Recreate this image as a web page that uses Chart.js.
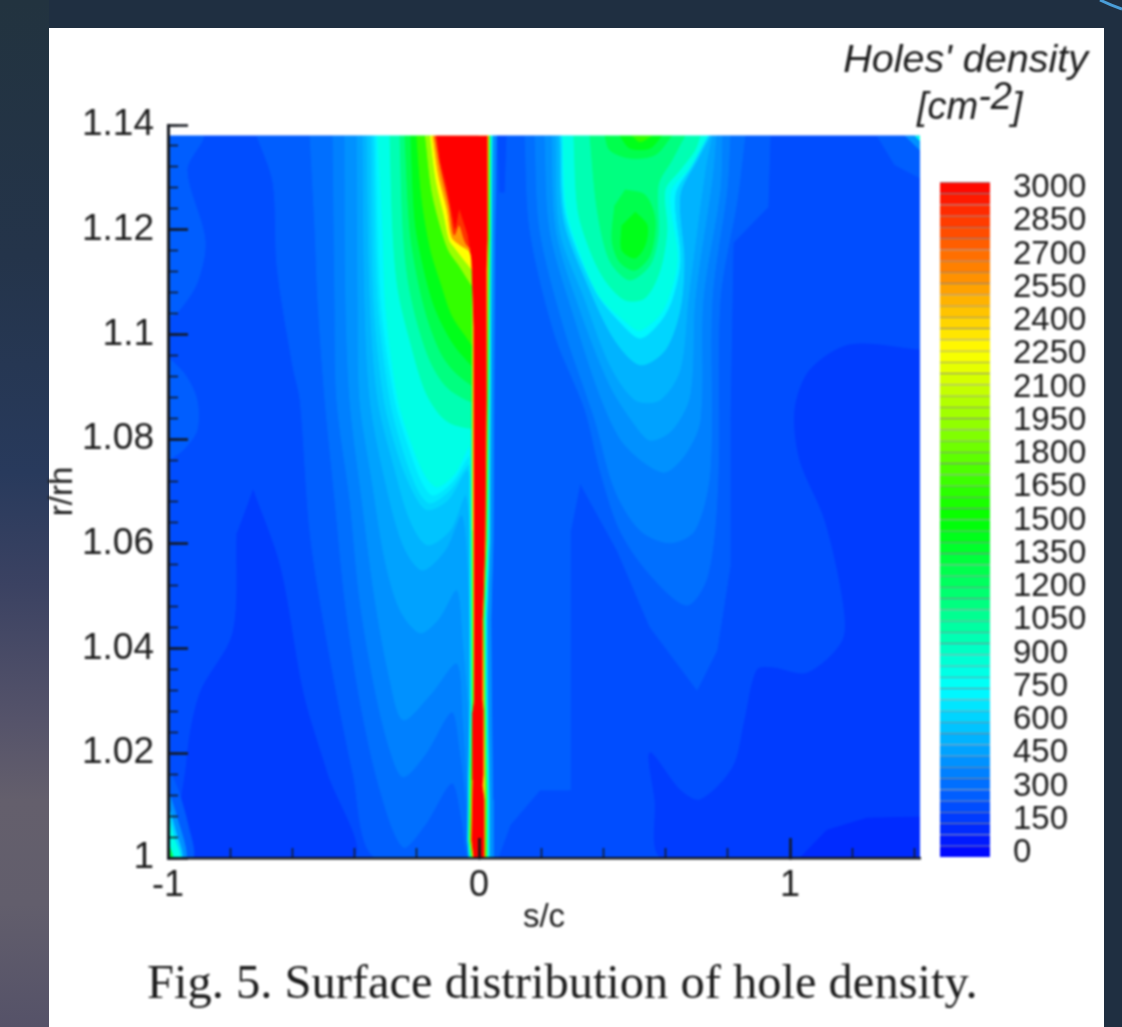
<!DOCTYPE html>
<html><head><meta charset="utf-8">
<style>
html,body{margin:0;padding:0;width:1122px;height:1027px;overflow:hidden;background:#1f2f41}
#bg{position:absolute;inset:0;background:linear-gradient(to bottom,#22333f 0%,#24344a 25%,#283a5c 46%,#3b4262 57%,#55536a 70%,#645f6c 78%,#625e6c 88%,#555268 100%)}
#bgr{position:absolute;left:49px;top:0;right:0;height:28px;background:#1f2f41}
#bgs{position:absolute;left:1104px;top:0;right:0;bottom:0;background:#1f2f41}
#page{position:absolute;left:49px;top:28px;width:1055px;height:999px;background:#fff}
.t{position:absolute;color:#1c1c1c;white-space:nowrap;font-family:"Liberation Sans",Arial,sans-serif}
#wrap{position:absolute;inset:0;filter:blur(0.8px)}
</style></head><body>
<div id="bg"></div><div id="bgr"></div><div id="bgs"></div>
<svg style="position:absolute;left:1080px;top:0" width="42" height="24"><path d="M20 0 Q30 5 42 9" fill="none" stroke="#4a9ed8" stroke-width="3"/></svg>
<div id="page"></div>
<div id="wrap">
<div style="position:absolute;left:0;top:0;width:1122px;height:1027px"><canvas id="main" width="1122" height="1027"></canvas></div>
<div style="position:absolute;left:940px;top:172px;width:164px;height:695px"><canvas id="bar" width="164" height="695"></canvas></div>
<div class="t" style="right:34px;top:36px;font-size:39.5px;font-style:italic">Holes' density</div>
<div class="t" style="left:917px;top:85px;font-size:38px;font-style:italic">[cm<span style="position:relative;top:-10px">-2</span>]</div>
<div class="t" style="left:147px;top:954px;font-size:48.5px;font-family:'Liberation Serif',serif">Fig. 5. Surface distribution of hole density.</div>
</div>
<script src="https://cdn.jsdelivr.net/npm/chart.js@4"></script>
<script>
// axes
const xMajorTicks=[-1,0,1];
const xMinorTicks=[-1,-0.8,-0.6,-0.4,-0.2,0,0.2,0.4,0.6,0.8,1,1.2,1.4];
const yMajorTicks=[1,1.02,1.04,1.06,1.08,1.1,1.12,1.14];
const yMinorTicks=[1,1.004,1.008,1.012,1.016,1.02,1.024,1.028,1.032,1.036,1.04,1.044,1.048,1.052,1.056,1.06,1.064,1.068,1.072,1.076,1.08,1.084,1.088,1.092,1.096,1.1,1.104,1.108,1.112,1.116,1.12,1.124,1.128,1.132,1.136,1.14];
const legendLabels=[3000,2850,2700,2550,2400,2250,2100,1950,1800,1650,1500,1350,1200,1050,900,750,600,450,300,150,0];
const legendStep=50, legendMax=3000;
const sMin=-1,sMax=1.418,rMin=1,rTop=1.138,rMax=1.14;
// iso-density outlines: [s/c, r/rh]
const field=[[-1,1],[1.418,1],[1.418,1.138],[-1,1.138]];
const low150L=[[-0.727,1.0703],[-0.64,1.0556],[-0.566,1.0315],[-0.489,1.0162],[-0.405,1],[-0.939,1],[-0.939,1.0187],[-0.897,1.0315],[-0.791,1.043],[-0.778,1.0621]];
const low150R=[[1.418,1.097],[1.193,1.098],[1.064,1.0932],[1.016,1.0856],[1.032,1.076],[1.112,1.0646],[1.17,1.0493],[1.17,1.0416],[1.055,1.0353],[0.945,1.0363],[0.894,1.0359],[0.855,1.0264],[0.817,1.0174],[0.711,1.0111],[0.646,1.013],[0.55,1.0201],[0.566,1.0111],[0.592,1],[1.418,1]];
const low100=[[1.032,1],[1.119,1.0053],[1.247,1.0076],[1.418,1.0078],[1.418,1]];
const left250=[[-0.714,1.138],[-0.662,1.1289],[-0.649,1.1129],[-0.598,1.0938],[-0.575,1.0875],[-0.543,1.0621],[-0.489,1.0416],[-0.405,1.0162],[-0.334,1],[-0.003,1],[-0.003,1.138]];
const right250=[[-0.003,1.138],[0.058,1.138],[0.064,1.127],[0.084,1.127],[0.09,1.138],[0.936,1.138],[0.929,1.1243],[0.817,1.1175],[0.807,1.0837],[0.807,1.0556],[0.765,1.0397],[0.701,1.0321],[0.55,1.0441],[0.444,1.0588],[0.325,1.0716],[0.293,1.0621],[0.293,1.013],[0.196,1.013],[0.1,1.0063],[0.061,1],[-0.003,1]];
const edge250a=[[-1,1.138],[-0.887,1.138],[-0.939,1.1314],[-0.881,1.118],[-0.907,1.1098],[-0.971,1.1041],[-1,1.1033]];
const edge250b=[[-1,1.0957],[-0.945,1.0923],[-0.907,1.0875],[-0.907,1.0817],[-0.952,1.0779],[-1,1.076]];
const corner250=[[1.28,1.138],[1.337,1.1324],[1.418,1.1299],[1.418,1.138]];
const corner400=[[1.37,1.138],[1.418,1.1352],[1.418,1.138]];
const corner750=[[1.402,1.138],[1.418,1.137],[1.418,1.138]];
const foot250=[[-1,1.0174],[-0.968,1.013],[-0.936,1.0063],[-0.92,1],[-1,1]];
const foot400=[[-1,1.013],[-0.974,1.0082],[-0.942,1],[-1,1]];
const foot600=[[-1,1.0101],[-0.977,1.0053],[-0.955,1],[-1,1]];
const foot750=[[-1,1.0082],[-0.981,1.0038],[-0.961,1],[-1,1]];
const foot1200=[[-1,1.0029],[-0.984,1],[-1,1]];
const left300=[[-0.543,1.138],[-0.527,1.1199],[-0.518,1.1066],[-0.495,1.0875],[-0.463,1.0684],[-0.431,1.0493],[-0.383,1.0302],[-0.318,1.013],[-0.244,1.0021],[-0.174,1.0063],[-0.087,1.0143],[-0.055,1.0073],[-0.035,1],[-0.003,1],[-0.003,1.138]];
const left350=[[-0.469,1.138],[-0.463,1.1066],[-0.457,1.0875],[-0.415,1.0684],[-0.383,1.0493],[-0.334,1.0321],[-0.286,1.0206],[-0.244,1.0155],[-0.174,1.0197],[-0.087,1.0279],[-0.061,1.0206],[-0.042,1.0111],[-0.029,1],[-0.003,1],[-0.003,1.138]];
const left400=[[-0.431,1.138],[-0.428,1.1066],[-0.415,1.0875],[-0.376,1.0684],[-0.334,1.0493],[-0.286,1.034],[-0.244,1.0264],[-0.158,1.0311],[-0.071,1.0372],[-0.051,1.0264],[-0.035,1.0111],[-0.023,1],[-0.003,1],[-0.003,1.138]];
const left450=[[-0.392,1.138],[-0.389,1.1066],[-0.383,1.0875],[-0.344,1.0722],[-0.302,1.0569],[-0.254,1.0474],[-0.19,1.043],[-0.132,1.0455],[-0.071,1.0512],[-0.051,1.0416],[-0.032,1.0264],[-0.019,1],[-0.003,1],[-0.003,1.138]];
const left500=[[-0.373,1.138],[-0.367,1.1066],[-0.35,1.0875],[-0.302,1.0722],[-0.244,1.0598],[-0.183,1.055],[-0.109,1.0588],[-0.055,1.0655],[-0.035,1.055],[-0.023,1.0302],[-0.016,1],[-0.003,1],[-0.003,1.138]];
const left550=[[-0.36,1.138],[-0.35,1.1066],[-0.325,1.0875],[-0.27,1.0741],[-0.222,1.0646],[-0.167,1.0598],[-0.093,1.0626],[-0.042,1.0693],[-0.023,1.055],[-0.016,1.0302],[-0.013,1],[-0.003,1],[-0.003,1.138]];
const left600=[[-0.347,1.138],[-0.338,1.1066],[-0.305,1.0875],[-0.254,1.076],[-0.206,1.0693],[-0.167,1.0665],[-0.1,1.0684],[-0.035,1.0741],[-0.019,1.0626],[-0.01,1.0302],[-0.01,1],[-0.003,1],[-0.003,1.138]];
const left650=[[-0.338,1.138],[-0.325,1.1066],[-0.286,1.0875],[-0.244,1.0779],[-0.196,1.0703],[-0.158,1.0678],[-0.093,1.0703],[-0.035,1.0751],[-0.003,1.075],[-0.003,1.138]];
const left700=[[-0.331,1.138],[-0.315,1.1066],[-0.27,1.0875],[-0.222,1.0779],[-0.183,1.0718],[-0.148,1.0693],[-0.087,1.0718],[-0.029,1.077],[-0.003,1.077],[-0.003,1.138]];
const left750=[[-0.325,1.138],[-0.309,1.1199],[-0.299,1.1047],[-0.26,1.0875],[-0.215,1.0789],[-0.174,1.0732],[-0.135,1.0709],[-0.077,1.0735],[-0.029,1.0789],[-0.003,1.0789],[-0.003,1.138]];
const left900=[[-0.286,1.138],[-0.277,1.1199],[-0.26,1.1085],[-0.222,1.0989],[-0.174,1.0894],[-0.125,1.0846],[-0.077,1.0827],[-0.003,1.0827],[-0.003,1.138]];
const left1050=[[-0.254,1.138],[-0.244,1.1199],[-0.228,1.1104],[-0.196,1.1018],[-0.151,1.0942],[-0.093,1.0894],[-0.003,1.0875],[-0.003,1.138]];
const left1200=[[-0.238,1.138],[-0.222,1.1199],[-0.196,1.1104],[-0.164,1.1028],[-0.119,1.0961],[-0.068,1.0923],[-0.003,1.0903],[-0.003,1.138]];
const left1350=[[-0.219,1.138],[-0.206,1.1219],[-0.18,1.1133],[-0.145,1.1056],[-0.1,1.0999],[-0.055,1.0961],[-0.003,1.0936],[-0.003,1.138]];
const left1500=[[-0.2,1.138],[-0.183,1.1257],[-0.155,1.1161],[-0.12,1.1094],[-0.087,1.1037],[-0.045,1.0999],[-0.003,1.097],[-0.003,1.138]];
const left1800=[[-0.172,1.138],[-0.152,1.1276],[-0.125,1.1209],[-0.098,1.1161],[-0.068,1.1135],[-0.003,1.1085],[-0.003,1.138]];
const left2100=[[-0.156,1.138],[-0.138,1.1295],[-0.112,1.1228],[-0.095,1.118],[-0.077,1.1165],[-0.035,1.1133],[-0.003,1.1114],[-0.003,1.138]];
const left2400=[[-0.148,1.138],[-0.13,1.1305],[-0.102,1.1238],[-0.087,1.1185],[-0.061,1.1171],[-0.035,1.1161],[-0.003,1.1138],[-0.003,1.138]];
const left2700=[[-0.141,1.138],[-0.122,1.1314],[-0.096,1.1247],[-0.08,1.119],[-0.064,1.1209],[-0.039,1.1171],[-0.003,1.1161],[-0.003,1.138]];
const spike400=[[-0.003,1.138],[0.055,1.138],[0.05,1.118],[0.045,1.0607],[0.038,1.0455],[0.04,1.03],[0.044,1.0111],[0.045,1],[-0.003,1]];
const spike750=[[-0.028,1.079],[-0.028,1.0626],[-0.027,1.03],[-0.033,1.0149],[-0.036,1.0034],[-0.031,1],[0.032,1],[0.032,1.0111],[0.026,1.03],[0.024,1.0455],[0.033,1.0607],[0.039,1.118],[0.042,1.138],[-0.003,1.138]];
const spike1500=[[-0.022,1.097],[-0.022,1.0626],[-0.02,1.03],[-0.027,1.0149],[-0.03,1.0034],[-0.024,1],[0.024,1],[0.024,1.0111],[0.019,1.03],[0.016,1.0455],[0.025,1.0607],[0.033,1.118],[0.034,1.138],[-0.003,1.138]];
const spike2250=[[-0.019,1.11],[-0.019,1.0626],[-0.016,1.03],[-0.022,1.0149],[-0.026,1.0034],[-0.019,1],[0.019,1],[0.019,1.0111],[0.015,1.03],[0.012,1.0455],[0.021,1.0607],[0.028,1.118],[0.03,1.138],[-0.003,1.138]];
const core3000=[[-0.135,1.138],[-0.125,1.1333],[-0.103,1.1282],[-0.084,1.1224],[-0.077,1.1203],[-0.064,1.1243],[-0.035,1.119],[-0.023,1.1142],[-0.016,1.1014],[-0.016,1.0626],[-0.013,1.0598],[-0.013,1.0302],[-0.019,1.0279],[-0.019,1.0149],[-0.023,1.0034],[-0.016,1],[0.016,1],[0.016,1.0111],[0.01,1.0139],[0.013,1.0159],[0.013,1.0283],[0.01,1.0302],[0.01,1.0455],[0.013,1.0493],[0.019,1.0607],[0.023,1.0875],[0.023,1.1123],[0.026,1.118],[0.026,1.138]];
const lobe300=[[0.148,1.138],[0.164,1.1199],[0.244,1.0999],[0.341,1.0856],[0.389,1.0741],[0.453,1.0626],[0.55,1.0541],[0.669,1.0483],[0.736,1.0541],[0.768,1.0722],[0.775,1.1066],[0.83,1.1257],[0.855,1.138]];
const lobe350=[[0.18,1.138],[0.196,1.1199],[0.276,1.1008],[0.373,1.0837],[0.437,1.0703],[0.518,1.0626],[0.614,1.0602],[0.694,1.0626],[0.743,1.0741],[0.749,1.1066],[0.797,1.1276],[0.807,1.138]];
const lobe400=[[0.212,1.138],[0.228,1.1199],[0.309,1.1028],[0.395,1.0875],[0.469,1.0789],[0.592,1.0737],[0.662,1.077],[0.711,1.0837],[0.72,1.1066],[0.775,1.1276],[0.781,1.138]];
const lobe450=[[0.235,1.138],[0.248,1.1199],[0.325,1.1047],[0.421,1.0903],[0.502,1.0827],[0.55,1.0798],[0.62,1.0817],[0.678,1.0884],[0.694,1.1066],[0.749,1.1295],[0.762,1.138]];
const lobe500=[[0.248,1.138],[0.26,1.1199],[0.341,1.1066],[0.421,1.0942],[0.502,1.0875],[0.582,1.0875],[0.646,1.0932],[0.672,1.1066],[0.727,1.1314],[0.749,1.138]];
const lobe600=[[0.26,1.138],[0.273,1.1219],[0.357,1.1085],[0.437,1.0989],[0.518,1.0942],[0.598,1.097],[0.646,1.1047],[0.659,1.1142],[0.646,1.1266],[0.701,1.1333],[0.743,1.138]];
const lobe700=[[0.267,1.138],[0.28,1.1228],[0.373,1.1085],[0.453,1.1024],[0.518,1.0993],[0.582,1.1024],[0.62,1.1066],[0.646,1.1142],[0.63,1.1266],[0.685,1.1324],[0.736,1.138]];
const lobe750=[[0.27,1.138],[0.283,1.1238],[0.334,1.1142],[0.389,1.1072],[0.476,1.1022],[0.518,1.1008],[0.592,1.1047],[0.637,1.1142],[0.614,1.127],[0.678,1.132],[0.733,1.138]];
const lobe900=[[0.305,1.138],[0.318,1.1238],[0.357,1.1161],[0.405,1.1104],[0.469,1.1066],[0.534,1.107],[0.582,1.1123],[0.604,1.1199],[0.598,1.1276],[0.646,1.1314],[0.694,1.1352],[0.711,1.138]];
const lobe1050=[[0.357,1.138],[0.376,1.1257],[0.399,1.118],[0.428,1.1133],[0.485,1.1104],[0.55,1.1133],[0.576,1.119],[0.576,1.1285],[0.62,1.1333],[0.662,1.138]];
const top1200=[[0.405,1.138],[0.421,1.1352],[0.485,1.1337],[0.566,1.1343],[0.62,1.138]];
const peak1200=[[0.437,1.1247],[0.428,1.118],[0.453,1.1138],[0.502,1.1123],[0.55,1.1152],[0.566,1.1219],[0.534,1.1266],[0.469,1.1276]];
const top1350=[[0.453,1.138],[0.485,1.1356],[0.55,1.1356],[0.588,1.138]];
const peak1350=[[0.46,1.1209],[0.46,1.1161],[0.502,1.1146],[0.534,1.1171],[0.54,1.1209],[0.502,1.1234]];
const top1500=[[0.492,1.138],[0.518,1.1368],[0.556,1.138]];
// painting order: [band lower level, band upper level, outline]
const contours=[[200,250,field],[150,200,low150L],[150,200,low150R],[100,150,low100],
[250,300,left250],[250,300,right250],[250,300,edge250a],[250,300,edge250b],[250,300,corner250],[250,300,foot250],
[300,350,left300],[300,350,lobe300],[350,400,left350],[350,400,lobe350],
[400,450,left400],[400,450,lobe400],[400,450,spike400],[400,450,corner400],[400,450,foot400],
[450,500,left450],[450,500,lobe450],[500,550,left500],[500,550,lobe500],[550,600,left550],
[600,650,left600],[600,650,lobe600],[600,650,foot600],[650,700,left650],[700,750,left700],[700,750,lobe700],
[750,900,left750],[750,900,lobe750],[750,900,spike750],[750,900,corner750],[750,900,foot750],
[900,1050,left900],[900,1050,lobe900],[1050,1200,left1050],[1050,1200,lobe1050],
[1200,1350,left1200],[1200,1350,top1200],[1200,1350,peak1200],[1200,1350,foot1200],
[1350,1500,left1350],[1350,1500,top1350],[1350,1500,peak1350],
[1500,1800,left1500],[1500,1800,top1500],[1500,1800,spike1500],
[1800,2100,left1800],[2100,2400,left2100],[2250,2400,spike2250],[2400,2700,left2400],[2700,3000,left2700],[3000,3000,core3000]];
const straightOutlines=[field,low100,right250,corner250,corner400,corner750,spike400,spike750,spike1500,spike2250,core3000];

function ramp(v){
  const st=[[0,0,0,255],[750,0,255,255],[1500,0,255,0],[2250,255,255,0],[3000,255,0,0]];
  for(let i=1;i<st.length;i++){ if(v<=st[i][0]){const a=st[i-1],b=st[i],t=(v-a[0])/(b[0]-a[0]);
    return `rgb(${Math.round(a[1]+(b[1]-a[1])*t)},${Math.round(a[2]+(b[2]-a[2])*t)},${Math.round(a[3]+(b[3]-a[3])*t)})`;}}
  return 'rgb(255,0,0)';
}
const ink='#15181f';
const font=(s)=>({family:'"Liberation Sans",Arial,sans-serif',size:s});
const setTicks=a=>(sc=>{sc.ticks=a.map(v=>({value:v}));});
// the computed field stops just under the axis top: keep that strip white
const topStrip={id:'topStrip',afterDatasetsDraw(ch){const a=ch.chartArea,y=ch.scales.y,c=ch.ctx;
  c.save();c.fillStyle='#fff';c.fillRect(a.left,a.top,a.right-a.left,y.getPixelForValue(rTop)-a.top);c.restore();}};
new Chart(document.getElementById('main'),{
  type:'scatter',
  plugins:[topStrip],
  data:{datasets:contours.map((c,i)=>{const col=ramp((c[0]+c[1])/2);return {
    label:'level '+c[0],data:c[2].map(p=>({x:p[0],y:p[1]})),showLine:true,fill:'shape',order:contours.length-i,
    backgroundColor:col,borderColor:col,borderWidth:1,pointRadius:0,tension:straightOutlines.includes(c[2])?0:0.3};})},
  options:{responsive:false,animation:false,
    layout:{autoPadding:false,padding:{left:43,right:202,top:125,bottom:89}},
    plugins:{legend:{display:false},tooltip:{enabled:false}},
    scales:{
      x:{type:'linear',position:'bottom',weight:1,min:sMin,max:sMax,afterBuildTicks:setTicks(xMajorTicks),afterFit:s=>{s.height=80;},
        grid:{drawOnChartArea:false,tickLength:-20,tickWidth:2.5,tickColor:ink,z:1},border:{display:true,color:ink,width:2.5,z:1},
        ticks:{color:'#1c1c1c',font:font(36),padding:26,maxRotation:0,autoSkip:false,z:1,callback:v=>String(v)},
        title:{display:true,text:'s/c',color:'#1c1c1c',font:font(33),padding:{top:0,bottom:0}}},
      x2:{type:'linear',position:'bottom',weight:-1,min:sMin,max:sMax,afterBuildTicks:setTicks(xMinorTicks),afterFit:s=>{s.height=0;},
        grid:{drawOnChartArea:false,tickLength:-10,tickWidth:1.5,tickColor:ink,z:1},border:{display:false},ticks:{display:false}},
      y:{type:'linear',position:'left',weight:1,min:rMin,max:rMax,afterBuildTicks:setTicks(yMajorTicks),afterFit:s=>{s.width=125;},
        grid:{drawOnChartArea:false,tickLength:-20,tickWidth:2.5,tickColor:ink,z:1},border:{display:true,color:ink,width:3,z:1},
        ticks:{color:'#1c1c1c',font:font(37),padding:34,autoSkip:false,z:1,callback:v=>String(v)},
        title:{display:true,text:'r/rh',color:'#1c1c1c',font:font(33),padding:0}},
      y2:{type:'linear',position:'left',weight:-1,min:rMin,max:rMax,afterBuildTicks:setTicks(yMinorTicks),afterFit:s=>{s.width=0;},
        grid:{drawOnChartArea:false,tickLength:-10,tickWidth:1.5,tickColor:ink,z:1},border:{display:false},ticks:{display:false}}
    }}
});
// colour legend: stacked bands of equal height
const bandLevels=[];for(let v=0;v<legendMax;v+=legendStep)bandLevels.push(v);
new Chart(document.getElementById('bar'),{
  type:'bar',
  data:{labels:['legend'],datasets:bandLevels.map(v=>({label:String(v),data:[legendStep],stack:'s',
    backgroundColor:ramp(v+legendStep/2),borderColor:'rgba(0,0,30,0.45)',borderWidth:{top:1},borderSkipped:false,
    barPercentage:1,categoryPercentage:1,yAxisID:'y'}))},
  options:{responsive:false,animation:false,
    layout:{autoPadding:false,padding:{top:10,bottom:10,left:0,right:0}},
    plugins:{legend:{display:false},tooltip:{enabled:false}},
    scales:{
      x:{display:false,stacked:true},
      y:{display:false,stacked:true,min:0,max:legendMax},
      y2:{type:'linear',position:'right',min:-18,max:3027,afterBuildTicks:setTicks(legendLabels),afterFit:s=>{s.width=114;s.paddingTop=0;s.paddingBottom=0;},
        grid:{display:false,drawTicks:false},border:{display:false},
        ticks:{color:'#1c1c1c',font:font(33),padding:23,autoSkip:false,callback:v=>String(v)}}
    }}
});
</script>
</body></html>
